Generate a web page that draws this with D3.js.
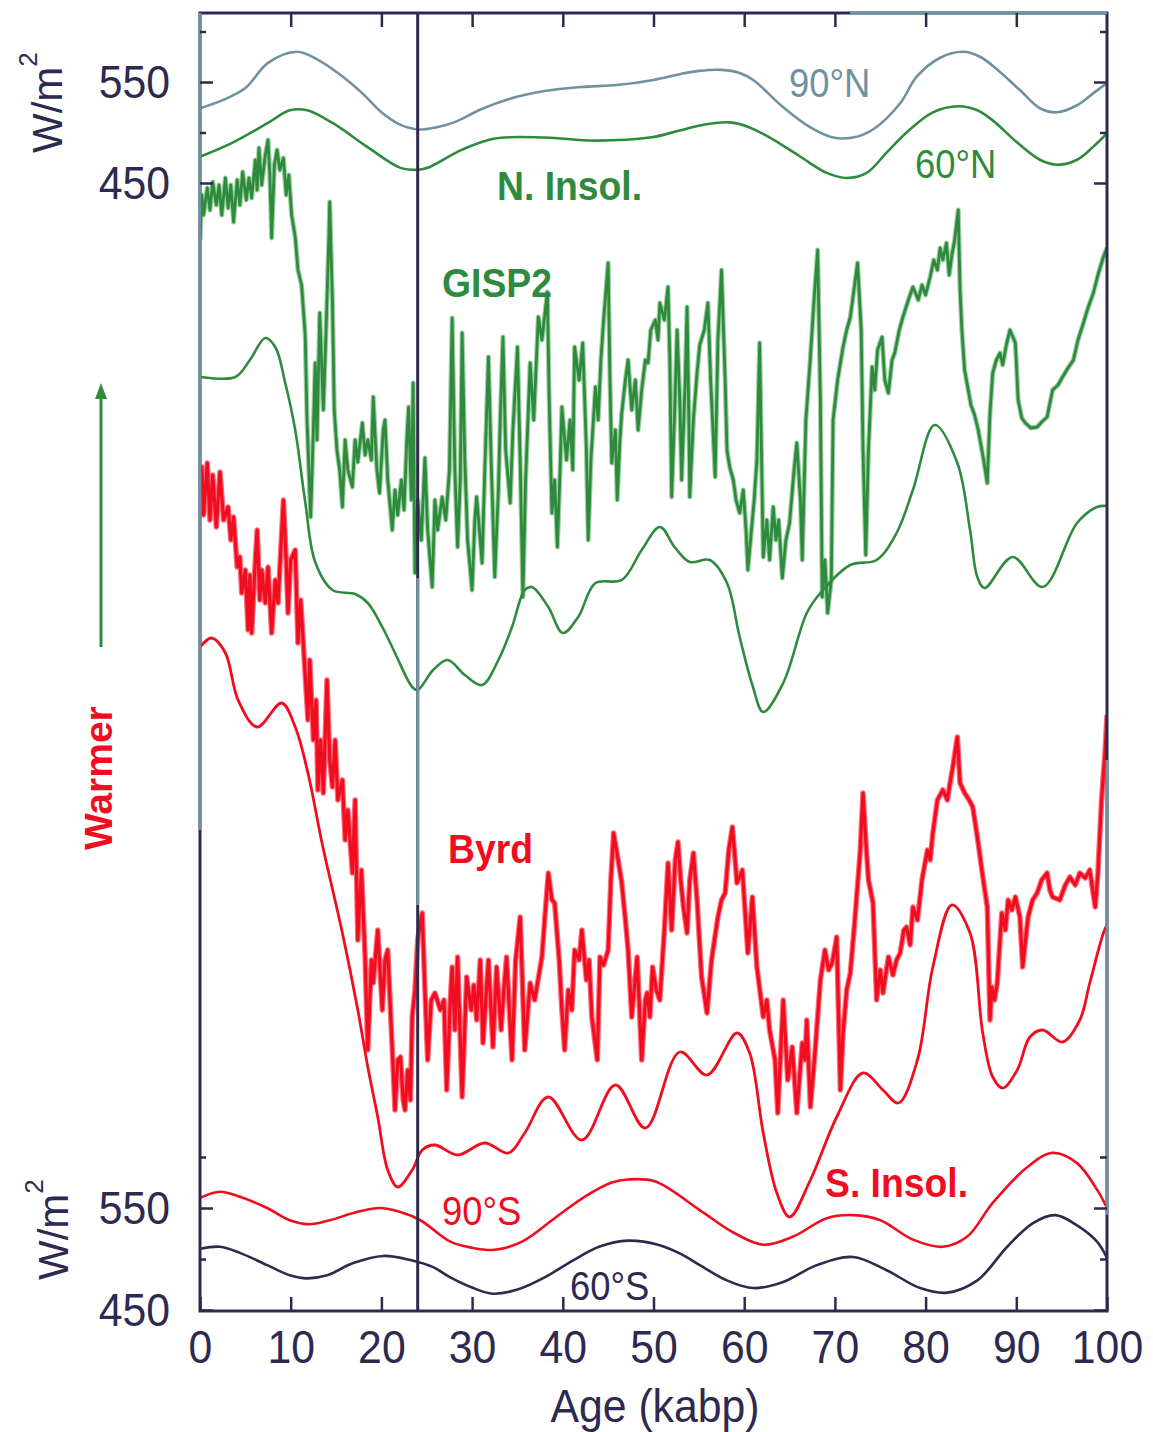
<!DOCTYPE html>
<html>
<head>
<meta charset="utf-8">
<script src="https://cdn.jsdelivr.net/npm/d3@7"></script>
<style>
  body { margin: 0; background: #fff; }
  text { font-family: "Liberation Sans", Arial, sans-serif; }
</style>
</head>
<body>
<svg id="chart" width="1153" height="1432"></svg>
<script>
// ---- data (age in kabp) ----
let ageTicks = [0, 10, 20, 30, 40, 50, 60, 70, 80, 90, 100]
let wattTicks = [450, 550]
let wattMinor = [500, 600]
let markerAge = 24

// insolation, W/m2
let n90 = [[0,524],[2.5,532],[5,544],[7.5,569],[10.7,580],[13,572],[15.5,557],[18,538],[20,520],[22,508],[24,503],[26,505],[28,510],[31,523],[34,533],[38,541],[42,545],[46,547],[50,552],[53,558],[55,561],[57.5,562],[59.5,559],[61,552],[64.3,525],[67.3,505],[69.8,495],[72,495],[74.2,503],[77.2,529],[79,555],[81.6,574],[84.1,580],[86,575],[88.2,560],[90.4,542],[92.6,524],[94.5,520],[96.7,527],[98.5,539],[100,549]]
let n60 = [[0,476],[3.6,490],[7.4,509],[9.9,522],[11.8,522],[14.7,509],[18.4,486],[22.1,465],[23.9,463],[25.1,465],[28.9,483],[32.5,494],[38,495],[43.5,492],[49.6,495],[52.9,502],[55.1,507],[58.4,510],[60.6,505],[63.2,493],[66.2,476],[69.1,460],[71.3,455],[73.5,460],[75.7,480],[77.9,500],[80.8,520],[83.6,526],[85.7,522],[87.4,512],[90.1,490],[92.6,473],[94.5,468],[96.7,473],[98.5,486],[100,499]]
let s90 = [[0,560],[2.2,566],[4.4,561],[7.4,550],[9.9,538],[12.1,534],[14.3,538],[17.3,546],[19.8,550],[22.1,546],[24.3,538],[27.6,517],[30,511],[32.5,509],[35.5,517],[39.1,540],[42.4,561],[45.4,575],[47.2,578],[50.2,576],[55.1,548],[58.8,526],[62.1,514],[65.4,522],[69.1,540],[72,543],[75,538],[78.6,519],[81.9,512],[84.6,522],[87.4,555],[91.2,590],[94,604],[96.7,594],[98.9,568],[100,550]]
let s60 = [[0,510],[2.2,512],[4.4,506],[7.4,494],[9.9,484],[11.8,481],[14,484],[16.9,496],[20.2,503],[23.2,499],[25.7,492],[27.6,482],[30,472],[32.3,466],[35,470],[38,482],[41,498],[44,512],[47.2,518],[50.5,514],[53,505],[55.1,494],[58.1,479],[61,471.5],[64.3,477.5],[68,494],[72,502],[75.7,489],[79.4,471.5],[82.4,467],[85.7,479],[89,512],[91.8,535],[94.3,543],[96.7,533],[98.9,517],[100,501]]

// ice core records and their smoothed insolation guides, relative units
let gisp2 = [[0,107],[0.2,111.5],[0.4,109.5],[0.8,112.2],[1.1,110],[1.4,112.8],[1.8,110.5],[2.1,112.5],[2.4,109.5],[2.8,113.2],[3.1,110.2],[3.4,112.5],[3.7,108.8],[4.1,113],[4.4,110.5],[4.7,113.8],[5.1,111],[5.4,113.2],[5.7,111.2],[6.1,115],[6.3,112],[6.5,116.2],[6.8,112.5],[7.2,115.5],[7.5,117],[7.7,113.5],[7.9,107.2],[8.2,114.5],[8.5,116],[8.8,114],[9.2,115.2],[9.5,111.5],[9.8,113.5],[10.1,109.5],[10.5,107.3],[10.8,104],[11.2,102.5],[11.6,97.5],[11.8,89],[12,84],[12.2,79.3],[12.5,88],[12.7,94.7],[12.9,87],[13.2,99.7],[13.6,90],[13.9,98],[14.2,107],[14.3,110.8],[14.6,101],[14.8,90],[15.1,86],[15.4,84],[15.7,80.3],[16,87],[16.3,84],[16.8,82.3],[17.1,87],[17.4,84.8],[17.9,88.7],[18.2,85.5],[18.5,87],[18.9,85],[19.1,91.3],[19.5,84],[19.8,81.7],[20.2,88],[20.4,89],[20.7,83],[21.2,78],[21.5,82],[21.8,79.5],[22.2,83],[22.5,80],[22.8,87],[23,90.3],[23.3,81],[23.5,92.7],[23.7,73.7],[24,81],[24.4,77],[24.8,85.2],[25.1,78],[25.6,72.3],[25.9,81],[26.2,78],[26.7,81.3],[27.1,79],[27.5,84],[27.8,99.2],[28.1,84],[28.4,76.3],[28.7,83],[28.9,97.7],[29.2,85],[29.5,77],[30,72],[30.3,79],[30.5,81.3],[30.9,77],[31.1,74.7],[31.4,84],[31.8,95.3],[32.1,85],[32.5,73.3],[32.9,82],[33.1,89],[33.4,97.3],[33.7,86],[34.2,80.7],[34.5,88],[35,96.3],[35.3,85],[35.6,71.3],[35.9,83],[36.4,94.7],[36.8,89],[37.3,99.3],[37.7,97],[38.3,101.8],[38.5,91],[38.8,79.7],[39.1,83],[39.4,76.3],[39.7,84],[39.9,90.3],[40.4,85],[40.8,89],[41.1,84],[41.3,96.3],[41.8,93],[42.2,96.7],[42.6,86],[42.8,77],[43.1,85],[43.6,92.3],[43.9,89],[44.2,95],[44.5,99],[45,104.7],[45.2,93],[45.4,84.7],[45.8,88],[46,81],[46.3,87],[46.5,89.7],[46.9,93],[47.2,95],[47.6,90],[48,93],[48.3,88],[48.7,92],[49.1,95],[49.4,94.7],[49.7,98],[50.2,99],[50.5,97],[50.7,100.7],[51.2,99],[51.6,102.3],[51.8,95],[52,81.3],[52.3,89],[52.6,98],[52.9,91],[53.1,83],[53.5,93],[53.7,100.3],[53.9,89],[54,81.3],[54.4,89],[54.8,93.7],[55.1,96.5],[55.6,98],[56,100.7],[56.3,93],[56.8,83.3],[57.1,97],[57.5,104],[57.9,93],[58.1,86],[58.4,84.3],[58.8,83],[59.1,81],[59.5,79.7],[59.9,82],[60.2,78],[60.4,74],[60.8,78],[61.1,81],[61.4,85],[61.7,96.7],[61.9,86],[62.1,75.3],[62.5,79],[62.8,75],[63.2,80.3],[63.5,77],[63.8,79],[64.2,73.2],[64.6,77],[65,78.7],[65.5,84],[65.8,86.7],[66.2,81],[66.4,75],[66.8,89],[67.3,95.3],[67.7,101],[68.1,106],[68.4,91],[68.6,71.3],[68.9,75],[69.2,69.7],[69.6,73],[69.8,89],[70.3,93],[70.9,96.3],[71.3,98],[71.7,99.3],[72.1,102],[72.5,104.7],[72.9,98],[73.1,86],[73.4,75.5],[73.7,86],[74.1,94.3],[74.4,92],[74.7,96],[75.2,97.3],[75.5,93],[75.9,91.7],[76.3,95],[76.6,95.7],[77.1,98],[77.5,99.3],[78.1,101],[78.6,102.3],[79.2,101],[79.6,102.5],[80,101.5],[80.5,103.3],[80.9,105],[81.3,104],[81.6,106.2],[81.9,105],[82.3,106.7],[82.6,103.5],[82.9,105.5],[83.2,107],[83.6,110],[83.8,102],[84,98],[84.3,94],[84.7,92],[85,90.5],[85.4,89.5],[85.8,88],[86.1,86.5],[86.4,85],[86.8,82.7],[87.1,89.7],[87.4,93.7],[87.8,95],[88.2,95.7],[88.5,94.5],[88.9,96.5],[89.3,98],[89.9,96.7],[90.2,91],[90.6,89.2],[91,88.7],[91.6,88.2],[92.3,88.3],[92.8,88.8],[93.4,89.3],[94,92],[94.6,92.5],[95.1,93.3],[95.7,94.2],[96.3,95],[96.8,97],[97.4,98.7],[97.9,100.2],[98.5,101.7],[99,103.5],[99.6,105.3],[100,106.2]]
let gisp2Smooth = [[0,93.3],[3.9,93.3],[5.5,95],[7.2,97.2],[8.3,96.3],[9.4,92.7],[10.5,88],[11.6,80.8],[12.7,74.8],[14.6,72],[17.1,71.6],[18.5,70.7],[20.1,68.3],[21.5,65.7],[23.4,62.3],[24,62],[25.7,64],[27.3,65],[29.2,63.5],[31.1,62.5],[32.9,65],[34.4,68.3],[35.8,72],[36.6,72.3],[38.4,70.3],[40,67.7],[41.7,69.3],[43.6,72.7],[46.5,73],[48.7,76],[50.7,78.3],[52.4,76.2],[54,74.8],[56.2,75],[58.1,72.7],[59.5,67.3],[60.9,62.5],[62.1,59.8],[64.3,62.7],[66.9,69.7],[68.4,71.7],[71.7,74.5],[74.6,75],[76.8,77.7],[78.6,82],[81,88.5],[83.5,84.7],[84.9,78],[85.7,73.3],[86.5,72.2],[89.6,75.3],[92.9,72.3],[96.7,78.7],[98.9,80.3],[100,80.4]]
let byrd = [[0,82],[0.2,84.3],[0.4,79.5],[0.8,84.7],[1.1,79],[1.4,83.5],[1.8,78.3],[2.2,83.8],[2.6,79],[3.1,80.3],[3.4,77],[3.7,79.3],[4.1,74.3],[4.4,75.3],[4.6,71.7],[5,74],[5.3,68],[5.5,73.5],[5.7,67.7],[6.1,75],[6.3,78],[6.6,71],[6.8,74],[7.2,70.7],[7.5,74.3],[7.9,67.7],[8.3,73],[8.6,70.7],[9.2,81],[9.5,75],[9.7,69.7],[10,75],[10.5,76],[10.8,66.7],[11.1,71],[11.5,65],[11.9,59],[12.1,65],[12.5,57],[12.8,61],[13,52],[13.3,57],[13.6,51.7],[14,63],[14.3,55],[14.6,52.3],[14.9,57],[15.2,51],[15.7,53],[16,47],[16.3,50],[16.8,43.7],[17.1,51],[17.4,37],[17.8,44],[18.2,35.3],[18.5,26],[18.9,35],[19.1,32.7],[19.6,38],[20.1,30],[20.4,35],[20.7,36],[21.2,26],[21.5,20],[21.8,25],[22.1,25.3],[22.4,21],[22.6,20],[22.9,24],[23.2,21],[23.4,29.3],[23.7,32],[24,37],[24.5,39.7],[24.8,32],[25.1,25],[25.5,31],[25.9,31.7],[26.5,30],[26.9,31],[27.2,22],[27.6,31],[27.8,34.3],[28.1,28],[28.4,35.3],[28.9,21.3],[29.4,33.3],[29.9,30],[30.2,32.5],[30.5,29],[30.9,35],[31.2,26.7],[31.8,35],[32.3,26.3],[32.7,34.3],[33.2,28],[33.5,32],[33.8,35.3],[34.4,25],[34.8,35],[35.3,39.3],[35.8,26],[36.4,32.7],[36.9,31],[37.7,35.3],[38,39],[38.4,43.7],[38.8,41],[39.1,40.7],[39.6,35],[39.9,30],[40.2,26],[40.6,32],[41,30],[41.3,36],[41.8,35],[42.1,38],[42.6,33],[42.9,35],[43.2,29.3],[43.8,25],[44.1,35.3],[44.5,34.5],[45,36],[45.3,43],[45.6,47.7],[46.1,45],[46.5,42.7],[46.9,39],[47.2,36],[47.6,29.3],[48.2,35.3],[48.7,25],[49.1,31],[49.3,31.7],[49.6,29.3],[49.9,34.3],[50.3,32],[50.7,31],[51.2,38],[51.6,44.7],[52,38],[52.4,45],[52.7,46.8],[53,43],[53.3,40.3],[53.7,37.7],[54,43],[54.4,45.7],[54.8,41],[55.3,33.3],[55.9,29.7],[56.4,35],[57.1,39.3],[57.5,41],[57.9,41.7],[58.3,46],[58.7,48.3],[59,45],[59.2,42.7],[59.8,44],[60.4,35.7],[60.9,41.3],[61.4,34.3],[62.1,29.3],[62.5,31],[62.8,28],[63.4,25],[63.7,19.7],[64.3,31],[64.8,23],[65.3,26.3],[65.8,19.7],[66.4,26.7],[66.7,25],[66.9,29],[67.3,20.3],[67.8,25.7],[68.4,33],[68.9,36],[69.3,34],[69.7,34.7],[70.2,37.3],[70.6,22],[70.9,27.7],[71.3,32],[71.7,33.7],[72.2,39],[72.8,46],[73.1,51.7],[73.4,47],[73.7,43],[74.2,40.7],[74.6,31],[75,34],[75.3,31.7],[75.9,35.3],[76.4,33.5],[76.8,35],[77.2,35.7],[77.6,38],[77.9,38.3],[78.3,36.5],[78.6,40.3],[79.1,39],[79.6,43],[80.2,46],[80.5,45],[80.8,47.7],[81.3,51],[81.9,52],[82.4,51],[82.7,52.7],[83,54.3],[83.5,57.3],[83.8,52.7],[84.3,51.7],[84.8,51],[85.2,50.3],[85.8,46.7],[86.2,44],[86.8,40.3],[87.1,29],[87.3,32.3],[87.6,31],[87.9,32.7],[88.4,39.7],[88.8,38],[89.1,41],[89.5,40],[89.9,41.3],[90.4,39.3],[90.7,34.3],[91.3,39.3],[91.8,41],[92.3,41.7],[92.8,43],[93.4,43.7],[93.7,42],[94,41.3],[94.8,41],[95.4,42.5],[95.9,43.3],[96.5,42.5],[97,43.7],[97.6,43.2],[98.1,44],[98.7,40.3],[99,43.7],[99.4,51],[99.8,56],[100,59.5]]
let byrdSmooth = [[0,66.3],[1.3,67.2],[2.8,65.7],[4.2,61],[6.3,58.3],[9,60.7],[10.5,58.3],[11.9,53.7],[13.5,46.5],[15.7,37.7],[17.4,30],[18.5,24.3],[19.6,19.3],[20.7,14],[21.8,12.3],[23.4,14],[24.5,16],[25.9,16.5],[28.4,15.5],[31.4,16.7],[34,15.7],[35.8,17.7],[38.4,21.3],[42.1,17],[45.8,22.5],[49.1,18.2],[52.9,25.8],[55.9,23.5],[59.2,27.7],[60.6,25.7],[62.1,17.7],[63.6,11.7],[65,9.3],[67.3,13],[70.2,19.3],[73.1,23.7],[75.3,22],[77,20.7],[79.1,25],[80.8,34.3],[82.9,40.5],[84.9,37.7],[86.3,27.7],[87.4,23.3],[88.5,22.2],[90.1,24],[91.5,27.3],[92.9,28],[95.1,26.8],[97,29],[98.1,32.7],[99.6,37.7],[100,38.5]]

// ---- setup ----
const NAVY = "#2e2a4f", SLATE = "#6f92a0", GREEN = "#2e8b3e", RED = "#f00d1f"
const GREEN_SOFT = "#9fd0a2", RED_SOFT = "#ff6b79"
let svg = d3.select("#chart")

let x = d3.scaleLinear().domain([0, 100]).range([200, 1107])
let yNorth = d3.scaleLinear().domain([450, 550]).range([183, 82])
let ySouth = d3.scaleLinear().domain([450, 550]).range([1310, 1208])
let yRel = d3.scaleLinear().domain([0, 130]).range([1310, 10])

let plotTop = 13, plotBottom = 1311

svg.append("defs").append("clipPath").attr("id", "plot")
    .append("rect").attr("x", x(0)).attr("y", plotTop)
    .attr("width", x(100) - x(0)).attr("height", plotBottom - plotTop)

let plot = svg.append("g").attr("clip-path", "url(#plot)")

let smoothLine = (ys) => d3.line().x(d => x(d[0])).y(d => ys(d[1])).curve(d3.curveCatmullRom.alpha(0.5))
let rawLine = (ys) => d3.line().x(d => x(d[0])).y(d => ys(d[1]))

let draw = (data, gen, color, w) => plot.append("path")
    .datum(data)
    .attr("d", gen)
    .attr("fill", "none")
    .attr("stroke", color)
    .attr("stroke-width", w)
    .attr("stroke-linejoin", "round")

// records: soft halo underneath, then the line itself
draw(gisp2, rawLine(yRel), GREEN_SOFT, 5)
draw(gisp2, rawLine(yRel), GREEN, 2.8)
draw(gisp2Smooth, smoothLine(yRel), GREEN, 2.6)
draw(byrd, rawLine(yRel), RED_SOFT, 5.5)
draw(byrd, rawLine(yRel), RED, 3.2)
draw(byrdSmooth, smoothLine(yRel), RED, 2.8)

// insolation
draw(n90, smoothLine(yNorth), SLATE, 2.6)
draw(n60, smoothLine(yNorth), GREEN, 2.6)
draw(s90, smoothLine(ySouth), RED, 2.6)
draw(s60, smoothLine(ySouth), NAVY, 2.6)

// marker line at 24 kabp
svg.append("line").attr("x1", x(markerAge)).attr("x2", x(markerAge))
    .attr("y1", plotTop).attr("y2", plotBottom).attr("stroke", NAVY).attr("stroke-width", 3)
svg.append("line").attr("x1", x(markerAge)).attr("x2", x(markerAge))
    .attr("y1", 578).attr("y2", 905).attr("stroke", SLATE).attr("stroke-width", 3)

// frame
svg.append("rect").attr("x", x(0)).attr("y", plotTop)
    .attr("width", x(100) - x(0)).attr("height", plotBottom - plotTop)
    .attr("fill", "none").attr("stroke", NAVY).attr("stroke-width", 3)
svg.append("line").attr("x1", x(0)).attr("x2", x(0)).attr("y1", plotTop).attr("y2", 830)
    .attr("stroke", SLATE).attr("stroke-width", 3)
svg.append("line").attr("x1", x(100)).attr("x2", x(100)).attr("y1", 760).attr("y2", 1215)
    .attr("stroke", SLATE).attr("stroke-width", 3)
svg.append("line").attr("x1", 850).attr("x2", x(100)).attr("y1", plotTop).attr("y2", plotTop)
    .attr("stroke", SLATE).attr("stroke-width", 3)

// axes
let styleAxis = (g) => {
    g.select(".domain").remove()
    g.attr("font-family", null).attr("font-size", null)
    g.selectAll(".tick line").attr("stroke", NAVY).attr("stroke-width", 2.5)
    g.selectAll("text").attr("fill", NAVY).attr("font-size", 47)
}

let bx = svg.append("g").attr("transform", `translate(0,${plotBottom})`)
    .call(d3.axisBottom(x).tickValues(ageTicks).tickSize(-14).tickPadding(19))
styleAxis(bx)
bx.selectAll("text").attr("transform", "scale(0.91,1)")

let tx = svg.append("g").attr("transform", `translate(0,${plotTop})`)
    .call(d3.axisTop(x).tickValues(ageTicks.slice(1, -1)).tickSize(-14).tickFormat(""))
styleAxis(tx)

let wattAxes = (scale) => {
    let g = svg.append("g").attr("transform", `translate(${x(0)},0)`)
        .call(d3.axisLeft(scale).tickValues(wattTicks).tickSize(-13).tickPadding(30))
    styleAxis(g)
    g.selectAll("text").attr("x", -33).attr("transform", "scale(0.91,1)")
    let m = svg.append("g").attr("transform", `translate(${x(0)},0)`)
        .call(d3.axisLeft(scale).tickValues(wattMinor).tickSize(-6).tickFormat(""))
    styleAxis(m)
    let r = svg.append("g").attr("transform", `translate(${x(100)},0)`)
        .call(d3.axisRight(scale).tickValues(wattTicks).tickSize(-13).tickFormat(""))
    styleAxis(r)
    let rm = svg.append("g").attr("transform", `translate(${x(100)},0)`)
        .call(d3.axisRight(scale).tickValues(wattMinor).tickSize(-7).tickFormat(""))
    styleAxis(rm)
}
wattAxes(yNorth)
wattAxes(ySouth)

// ---- text ----
let label = (txt, px, py, size, color, weight, anchor) => svg.append("text")
    .attr("transform", `translate(${px},${py}) scale(0.91,1)`)
    .attr("font-size", size)
    .attr("fill", color)
    .attr("font-weight", weight || "normal")
    .attr("text-anchor", anchor || "start")
    .text(txt)

label("Age (kabp)", 655, 1422, 47, NAVY, "normal", "middle")
label("90°N", 789, 97, 40, SLATE)
label("60°N", 915, 178, 40, GREEN)
label("N. Insol.", 497, 200, 41, GREEN, "bold")
label("GISP2", 442, 297, 41, GREEN, "bold")
label("Byrd", 448, 863, 41, RED, "bold")
label("S. Insol.", 825, 1197, 41, RED, "bold")
label("90°S", 442, 1225, 40, RED)
label("60°S", 570, 1300, 40, NAVY)

let unitLabel = (px, py) => {
    let t = svg.append("text")
        .attr("transform", `translate(${px},${py}) rotate(-90)`)
        .attr("font-size", 42)
        .attr("fill", NAVY)
    t.append("tspan").text("W/m")
    t.append("tspan").attr("font-size", 26).attr("dy", -25).text("2")
}
unitLabel(62, 153)
unitLabel(68, 1280)

svg.append("text")
    .attr("transform", "translate(112,850) rotate(-90)")
    .attr("font-size", 39)
    .attr("font-weight", "bold")
    .attr("fill", RED)
    .text("Warmer")

// warmer arrow
svg.append("line").attr("x1", 101).attr("x2", 101).attr("y1", 647).attr("y2", 396)
    .attr("stroke", GREEN).attr("stroke-width", 3)
svg.append("path").attr("d", "M101,383 L95,399 L107,399 Z").attr("fill", GREEN)
</script>
</body>
</html>
